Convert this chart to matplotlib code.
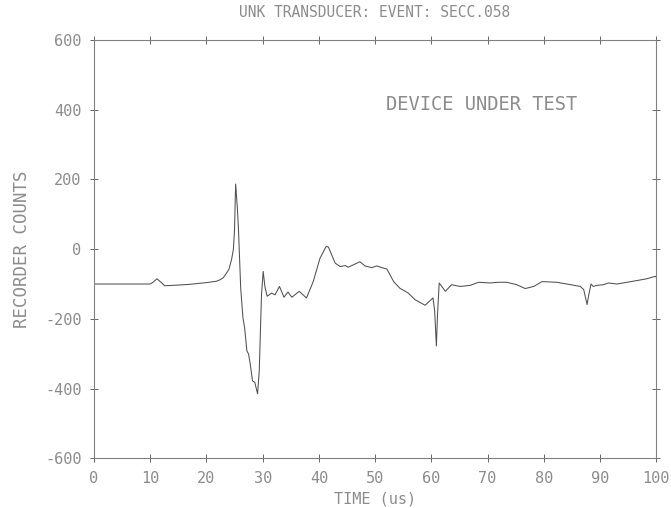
#!/usr/bin/env python
# -*- coding:utf8 -*-
# UNK transducer event trace, recorder counts vs time
import matplotlib
matplotlib.use("Agg")
import matplotlib.pyplot as plt

# values
time_us = [0, 5, 10, 10.5, 11.2, 12.0, 12.6, 15, 17, 20, 21.8, 22.4, 23.0, 23.6,
           24.0, 24.5, 24.8, 25.0, 25.2, 25.5, 25.7, 26.1, 26.5, 26.8, 27.2, 27.5,
           27.8, 28.2, 28.6, 29.1, 29.4, 29.8, 30.1, 30.4, 30.8, 31.6, 32.2, 33.0,
           33.8, 34.5, 35.2, 36.5, 37.8, 39.0, 40.2, 41.3, 41.7, 42.9, 43.8, 44.7,
           45.2, 47.3, 48.2, 49.4, 50.3, 51.2, 52.1, 53.3, 54.4, 55.9, 57.1, 58.9,
           60.3, 60.6, 60.9, 61.1, 61.4, 62.5, 63.6, 65.1, 66.9, 68.4, 70.5, 71.9,
           73.4, 75.2, 76.7, 78.2, 79.7, 82.3, 84.1, 86.5, 87.1, 87.7, 88.0, 88.4,
           88.8, 89.4, 90.6, 91.5, 93.0, 94.8, 96.6, 98.3, 99.8, 100]
counts = [-100, -100, -100, -95, -85, -96, -105, -103, -101, -96, -92, -88, -82, -68,
          -58, -28, 0, 55, 187, 120, 58, -112, -197, -226, -292, -301,
          -330, -378, -382, -415, -349, -130, -64, -107, -135, -126, -131, -107,
          -138, -123, -138, -121, -140, -93, -26, 8, 6, -40, -50, -47,
          -52, -36, -48, -53, -48, -53, -57, -93, -112, -126, -145, -161,
          -140, -178, -278, -188, -97, -121, -102, -107, -104, -95, -97, -95,
          -95, -102, -113, -107, -93, -95, -100, -107, -116, -159, -131, -100,
          -107, -104, -102, -97, -100, -95, -90, -85, -78, -80]

x_ticks = list(range(0, 101, 10))
y_ticks = [600, 400, 200, 0, -200, -400, -600]

txt_col = "#8c8c8c"
font = "DejaVu Sans Mono"
plt.rcParams['axes.unicode_minus'] = False

fig = plt.figure(figsize=(6.71, 5.08), dpi=100)
ax = fig.add_axes([0.140, 0.098, 0.838, 0.823])

ax.plot(time_us, counts, color="#505050", lw=0.75)

ax.set_xlim(0, 100)
ax.set_ylim(-600, 600)
ax.set_xticks(x_ticks)
ax.set_yticks(y_ticks)
ax.tick_params(direction="inout", length=6, width=0.7, colors="#666666",
               labelcolor=txt_col, labelsize=11, top=True, right=True, pad=6)
for lab in ax.get_xticklabels() + ax.get_yticklabels():
    lab.set_family(font)
for sp in ax.spines.values():
    sp.set_color("#808080")
    sp.set_linewidth(0.8)

ax.set_xlabel("TIME (us)", family=font, fontsize=11, color=txt_col, labelpad=4)
ax.set_ylabel("RECORDER COUNTS", family=font, fontsize=12.5, color=txt_col, labelpad=10)
ax.set_title("UNK TRANSDUCER: EVENT: SECC.058", family=font, fontsize=10.5,
             color=txt_col, pad=17)
ax.text(0.52, 0.845, "DEVICE UNDER TEST", transform=ax.transAxes, family=font,
        fontsize=13.5, color=txt_col, va="center")

fig.savefig("out.png", dpi=100)
